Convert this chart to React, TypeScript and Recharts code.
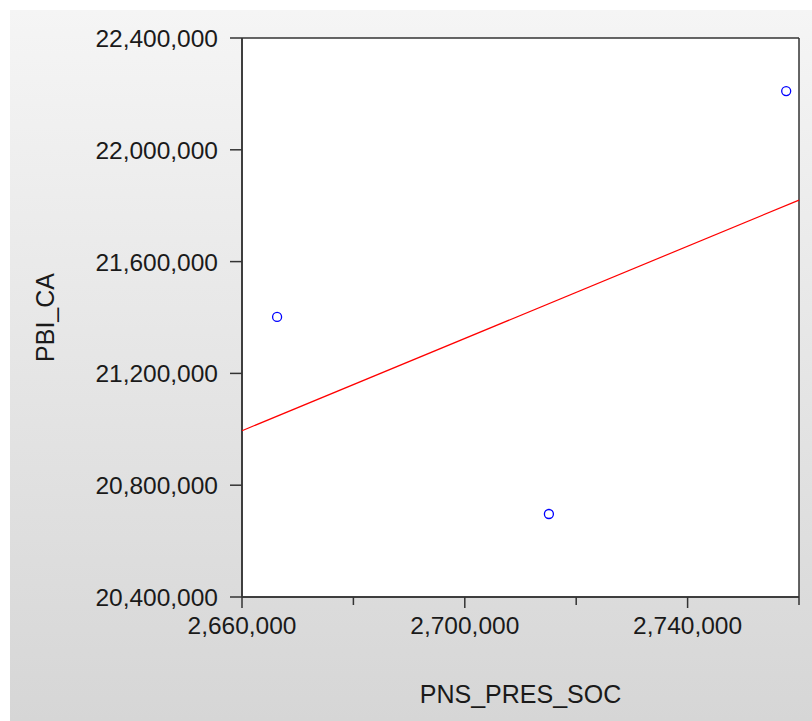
import React from 'react';
import {
  ScatterChart,
  Scatter,
  XAxis,
  YAxis,
  CartesianGrid,
} from 'recharts';

const pnsPresSoc = [2666300, 2715100, 2757700];
const pbiCa = [21402000, 20697000, 22210000];

// fitted line endpoints at the plot edges
const fitX = [2660000, 2760000];
const fitY = [20995000, 21820000];

const xTicks = [2660000, 2680000, 2700000, 2720000, 2740000, 2760000];
const xLabeled = [2660000, 2700000, 2740000];
const yTicks = [20400000, 20800000, 21200000, 21600000, 22000000, 22400000];

const points = pnsPresSoc.map((x, i) => ({ x, y: pbiCa[i] }));
const fitLine = fitX.map((x, i) => ({ x, y: fitY[i] }));

const FONT = '"Liberation Sans", Arial, sans-serif';
const TEXT = '#1a1a1a';
const fmt = (v: number) => v.toLocaleString('en-US');

function XTick(props: any) {
  const { x, y, payload } = props;
  const major = xLabeled.includes(payload.value);
  return (
    <g>
      <line x1={x} x2={x} y1={y} y2={y + (major ? 11 : 8)} stroke="#333" strokeWidth={1.5} />
      {major && (
        <text x={x} y={y + 37} textAnchor="middle" fill={TEXT} fontSize={24.5} fontFamily={FONT}>
          {fmt(payload.value)}
        </text>
      )}
    </g>
  );
}

function YTick(props: any) {
  const { x, y, payload } = props;
  return (
    <g>
      <line x1={x} x2={x + 12} y1={y} y2={y} stroke="#333" strokeWidth={1.5} />
      <text x={x - 12} y={y + 9} textAnchor="end" fill={TEXT} fontSize={24.5} fontFamily={FONT}>
        {fmt(payload.value)}
      </text>
    </g>
  );
}

const Ring = (props: any) => (
  <circle cx={props.cx} cy={props.cy} r={4.5} fill="none" stroke="#0000ff" strokeWidth={1.3} />
);

export default function App() {
  return (
    <div style={{ position: 'absolute', left: 0, top: 0, width: 812, height: 721, background: '#fff' }}>
      <div
        style={{
          position: 'absolute',
          left: 10,
          top: 10,
          right: 0,
          bottom: 0,
          background: 'linear-gradient(#f5f5f5, #d6d6d6)',
        }}
      />
      <div style={{ position: 'absolute', left: 0, top: 0 }}>
        <ScatterChart width={812} height={721} margin={{ top: 38, right: 13, bottom: 0, left: 0 }}>
          <CartesianGrid
            fill="#ffffff"
            stroke="#333"
            strokeWidth={1.5}
            horizontalCoordinatesGenerator={({ offset }: any) => [offset.top, offset.top + offset.height]}
            verticalCoordinatesGenerator={({ offset }: any) => [offset.left, offset.left + offset.width]}
          />
          <XAxis
            type="number"
            dataKey="x"
            domain={[2660000, 2760000]}
            ticks={xTicks}
            interval={0}
            height={124}
            tickSize={0}
            tickMargin={0}
            axisLine={{ stroke: '#333', strokeWidth: 1.5 }}
            tickLine={false}
            tick={<XTick />}
            label={{
              content: ({ viewBox }: any) => (
                <text
                  x={viewBox.x + viewBox.width / 2}
                  y={703}
                  textAnchor="middle"
                  fill={TEXT}
                  fontSize={25}
                  fontFamily={FONT}
                >
                  PNS_PRES_SOC
                </text>
              ),
            }}
          />
          <YAxis
            type="number"
            dataKey="y"
            domain={[20400000, 22400000]}
            ticks={yTicks}
            interval={0}
            width={242}
            tickSize={12}
            tickMargin={0}
            axisLine={{ stroke: '#333', strokeWidth: 1.5 }}
            tickLine={false}
            tick={<YTick />}
            label={{
              content: ({ viewBox }: any) => {
                const cy = viewBox.y + viewBox.height / 2;
                return (
                  <text
                    x={54}
                    y={cy}
                    transform={`rotate(-90 54 ${cy})`}
                    textAnchor="middle"
                    fill={TEXT}
                    fontSize={25}
                    fontFamily={FONT}
                  >
                    PBI_CA
                  </text>
                );
              },
            }}
          />
          <Scatter
            data={fitLine}
            line={{ stroke: '#ff0000', strokeWidth: 1.2 }}
            shape={() => null}
            isAnimationActive={false}
          />
          <Scatter data={points} shape={<Ring />} isAnimationActive={false} />
        </ScatterChart>
      </div>
    </div>
  );
}
